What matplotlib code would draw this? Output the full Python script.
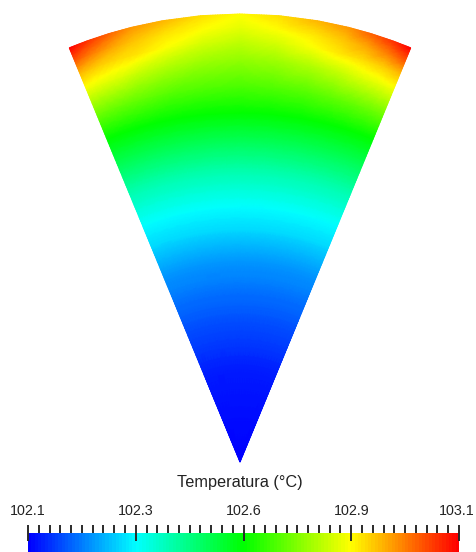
import numpy as np
import matplotlib
matplotlib.use('Agg')
import matplotlib.pyplot as plt
import matplotlib.tri as mtri
import matplotlib.transforms as mtransforms
from matplotlib.colors import LinearSegmentedColormap, Normalize
from matplotlib.cm import ScalarMappable
from matplotlib.ticker import MultipleLocator

# ---------------- data ----------------
radius_frac = [0.0, 0.20, 0.35, 0.45, 0.52, 0.57, 0.65, 0.72, 0.78,
               0.84, 0.90, 0.94, 0.97, 1.00]
half_angles_deg = [0.0, 5.0, 10.0, 14.0, 17.0, 20.0, 22.4]
# temperature (°C) per radius row (apex -> arc), per half-angle column (centre -> edge)
temperature = [
    [102.100, 102.100, 102.100, 102.100, 102.100, 102.100, 102.100],
    [102.125, 102.125, 102.125, 102.125, 102.125, 102.125, 102.125],
    [102.195, 102.195, 102.195, 102.195, 102.195, 102.195, 102.195],
    [102.250, 102.250, 102.250, 102.250, 102.250, 102.250, 102.250],
    [102.315, 102.315, 102.315, 102.315, 102.315, 102.315, 102.315],
    [102.350, 102.350, 102.350, 102.350, 102.350, 102.350, 102.350],
    [102.430, 102.430, 102.430, 102.430, 102.430, 102.430, 102.430],
    [102.520, 102.520, 102.520, 102.520, 102.520, 102.520, 102.520],
    [102.600, 102.600, 102.600, 102.600, 102.600, 102.600, 102.600],
    [102.675, 102.680, 102.685, 102.695, 102.700, 102.705, 102.710],
    [102.745, 102.755, 102.775, 102.795, 102.815, 102.825, 102.835],
    [102.790, 102.810, 102.845, 102.875, 102.885, 102.900, 102.920],
    [102.825, 102.850, 102.875, 102.905, 102.935, 102.975, 103.015],
    [102.850, 102.880, 102.920, 102.950, 103.000, 103.050, 103.100],
]
t_min, t_max = 102.1, 103.1
tick_values = [102.1, 102.35, 102.6, 102.85, 103.1]
tick_labels = ['102.1', '102.3', '102.6', '102.9', '103.1']
colorbar_title = 'Temperatura (°C)'
cmap_colors = ['#0000ff', '#00ffff', '#00ff00', '#ffff00', '#ff0000']

# ---------------- layout ----------------
W, H = 477, 552
APEX_X, APEX_Y, R = 240.0, 462.0, 448.0
TEXT_COLOR = '#222222'
LABEL_FONT = ['Liberation Sans', 'DejaVu Sans']
TITLE_FONT = ['Liberation Sans', 'DejaVu Sans']

cmap = LinearSegmentedColormap.from_list('rainbow_pv', cmap_colors, N=256)
norm = Normalize(vmin=t_min, vmax=t_max)

fig = plt.figure(figsize=(W / 100, H / 100), dpi=100)
fig.patch.set_facecolor('white')
ax = fig.add_axes([0, 0, 1, 1])
ax.set_xlim(0, W)
ax.set_ylim(H, 0)
ax.axis('off')

# full (mirrored) angular grid
h = np.array(half_angles_deg)
ang = np.deg2rad(np.concatenate([-h[::-1], h[1:]]))
T = np.array(temperature)
Tfull = np.concatenate([T[:, ::-1], T[:, 1:]], axis=1)
rr = np.array(radius_frac) * R
na = len(ang)
nr = len(rr)

xs = [APEX_X]
ys = [APEX_Y]
zs = [Tfull[0].mean()]
idx = {}
for i in range(1, nr):
    for j in range(na):
        idx[(i, j)] = len(xs)
        xs.append(APEX_X + rr[i] * np.sin(ang[j]))
        ys.append(APEX_Y - rr[i] * np.cos(ang[j]))
        zs.append(Tfull[i, j])
tris = []
for j in range(na - 1):
    tris.append([0, idx[(1, j)], idx[(1, j + 1)]])
for i in range(1, nr - 1):
    for j in range(na - 1):
        a, b = idx[(i, j)], idx[(i, j + 1)]
        c, d = idx[(i + 1, j)], idx[(i + 1, j + 1)]
        tris.append([a, b, d])
        tris.append([a, d, c])
tri = mtri.Triangulation(np.array(xs), np.array(ys), np.array(tris))
refiner = mtri.UniformTriRefiner(tri)
interp = mtri.LinearTriInterpolator(tri, np.array(zs))
tri_f, z_f = refiner.refine_field(np.array(zs), triinterpolator=interp, subdiv=4)
ax.tripcolor(tri_f, z_f, shading='gouraud', cmap=cmap, norm=norm)

# ---------------- colour bar ----------------
cax = fig.add_axes([28 / W, 0.0, 431 / W, 19.5 / H])
sm = ScalarMappable(norm=norm, cmap=cmap.resampled(128))
cbar = fig.colorbar(sm, cax=cax, orientation='horizontal')
cbar.outline.set_visible(False)
cax.xaxis.set_ticks_position('top')
cax.xaxis.set_label_position('top')
cbar.set_ticks(tick_values, labels=tick_labels)
cax.xaxis.set_minor_locator(MultipleLocator(0.025))
cax.tick_params(which='major', direction='inout', length=12.2, width=1.4,
                color='#2a2a2a', pad=4.2, labelsize=10.3, labelcolor=TEXT_COLOR)
cax.tick_params(which='minor', direction='out', length=5.8, width=1.4,
                color='#2a2a2a')
for lab in cax.get_xticklabels():
    lab.set_fontfamily(LABEL_FONT)
# nudge the last label slightly inward so it stays inside the figure
last = cax.xaxis.get_major_ticks()[-1].label2
last.set_transform(last.get_transform() +
                   mtransforms.ScaledTranslation(-2 / 100, 0, fig.dpi_scale_trans))

fig.text(240 / W, 1 - 482 / H, colorbar_title, ha='center', va='center',
         fontsize=11.7, color=TEXT_COLOR, family=TITLE_FONT)

fig.savefig('out.png', dpi=100, facecolor='white')
